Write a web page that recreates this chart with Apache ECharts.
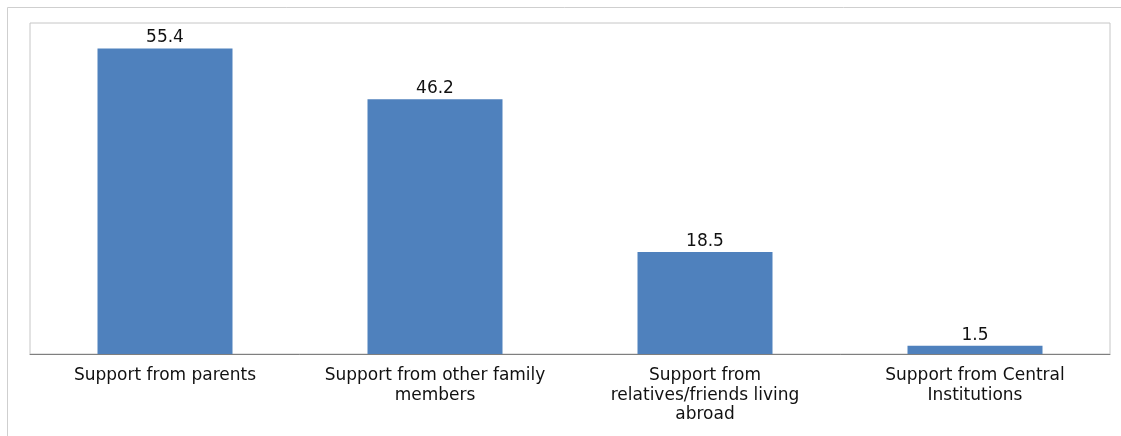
<!DOCTYPE html>
<html>
<head>
<meta charset="utf-8">
<script src="https://cdn.jsdelivr.net/npm/echarts@6/dist/echarts.min.js"></script>
<style>html,body{margin:0;padding:0;background:#fff;}#c{width:1121px;height:436px;}</style>
</head>
<body>
<div id="c"></div>
<script>
const categories = [
  "Support from parents",
  "Support from other family\nmembers",
  "Support from\nrelatives/friends living\nabroad",
  "Support from Central\nInstitutions"
];
const values = [55.4, 46.2, 18.5, 1.5];

const chart = echarts.init(document.getElementById('c'), null, {renderer: 'canvas'});
chart.setOption({
  animation: false,
  backgroundColor: '#ffffff',
  graphic: [{
    type: 'rect', x: 7, y: 7, z: -10,
    shape: {x: 0.5, y: 0.5, width: 1300, height: 600},
    style: {fill: 'none', stroke: '#cfcfcf', lineWidth: 1}
  }],
  grid: {left: 30, right: 11, top: 23, bottom: 82, show: true, borderColor: '#c6c6c6', borderWidth: 1, backgroundColor: 'transparent'},
  xAxis: {
    type: 'category', data: categories,
    axisLine: {show: true, lineStyle: {color: '#7f7f7f', width: 1}},
    axisTick: {show: false},
    axisLabel: {interval: 0, color: '#111', fontFamily: 'DejaVu Sans', fontSize: 17, lineHeight: 19.5, margin: 12, align: 'center'}
  },
  yAxis: {type: 'value', min: 0, max: 60, show: false, splitLine: {show: false}},
  series: [{
    type: 'bar', data: values, barWidth: '50%',
    itemStyle: {color: '#4F81BD'},
    label: {show: true, position: 'top', distance: 2, color: '#111', fontFamily: 'DejaVu Sans', fontSize: 17, formatter: p => p.value.toFixed(1)}
  }]
});
</script>
</body>
</html>
